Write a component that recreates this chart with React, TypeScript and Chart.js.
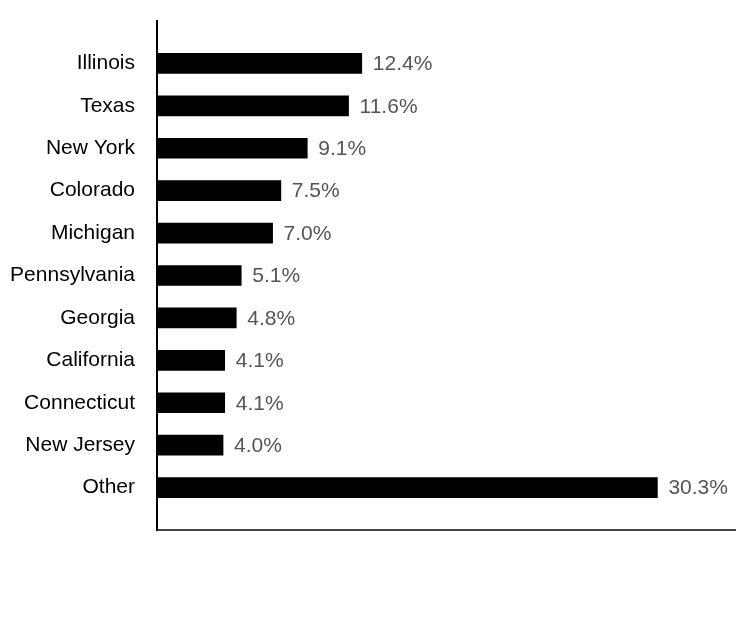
import React, { useEffect, useRef } from "react";
import { Chart, registerables } from "chart.js";

Chart.register(...registerables);

const categories = [
  "Illinois",
  "Texas",
  "New York",
  "Colorado",
  "Michigan",
  "Pennsylvania",
  "Georgia",
  "California",
  "Connecticut",
  "New Jersey",
  "Other",
];
const shares = [12.4, 11.6, 9.1, 7.5, 7.0, 5.1, 4.8, 4.1, 4.1, 4.0, 30.3];
const xMax = 35;

const FONT = "'Liberation Sans', Arial, Helvetica, sans-serif";

const valueLabels = {
  id: "valueLabels",
  afterDatasetsDraw(chart: any) {
    const ctx = chart.ctx;
    const meta = chart.getDatasetMeta(0);
    const data = chart.data.datasets[0].data;
    ctx.save();
    ctx.font = `21px ${FONT}`;
    ctx.fillStyle = "#555555";
    ctx.textAlign = "left";
    ctx.textBaseline = "middle";
    meta.data.forEach((el: any, i: number) => {
      const v = data[i];
      if (v === null || v === undefined) return;
      ctx.fillText(`${Number(v).toFixed(1)}%`, el.x + 11, el.y + 1);
    });
    ctx.restore();
  },
};

export default function App() {
  const ref = useRef<HTMLCanvasElement | null>(null);
  useEffect(() => {
    if (!ref.current) return;
    const labels = ["", ...categories, ""];
    const values = [null, ...shares, null];
    const chart = new Chart(ref.current, {
      type: "bar",
      data: {
        labels,
        datasets: [
          {
            data: values as any,
            backgroundColor: "#000000",
            borderColor: "#000000",
            borderWidth: 0,
            barThickness: 20,
          },
        ],
      },
      options: {
        indexAxis: "y",
        animation: false,
        responsive: false,
        maintainAspectRatio: false,
        layout: { padding: { top: 21, right: 21, bottom: 94, left: 0 } },
        plugins: {
          legend: { display: false },
          tooltip: { enabled: false },
          title: { display: false },
        },
        scales: {
          x: {
            type: "linear",
            min: 0,
            max: xMax,
            grid: { display: false, drawTicks: false },
            border: { display: true, color: "#444444", width: 2 },
            ticks: { display: false },
            afterFit: (scale: any) => {
              scale.height = 0;
            },
          },
          y: {
            type: "category",
            offset: false,
            grid: { display: false, drawTicks: false },
            border: { display: true, color: "#000000", width: 2 },
            ticks: {
              color: "#000000",
              padding: 22,
              autoSkip: false,
              font: { family: FONT, size: 21 },
            },
            afterFit: (scale: any) => {
              scale.width = 157;
              scale.paddingTop = 0;
              scale.paddingBottom = 0;
            },
          },
        },
      },
      plugins: [valueLabels],
    });
    return () => chart.destroy();
  }, []);
  return (
    <div style={{ position: "absolute", left: 0, top: 0, width: 756, height: 624, background: "#fff" }}>
      <canvas ref={ref} width={756} height={624} style={{ display: "block" }} />
    </div>
  );
}
